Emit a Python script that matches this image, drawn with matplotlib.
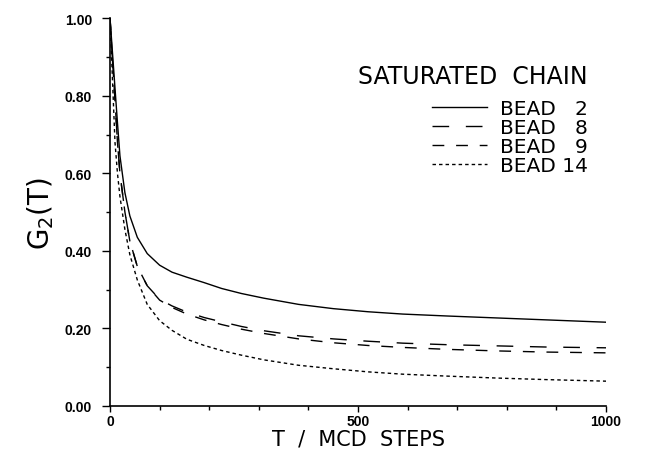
import matplotlib
matplotlib.use("Agg")
import matplotlib.pyplot as plt
from matplotlib.ticker import MultipleLocator

# T / MCD steps
steps = [0, 5, 10, 15, 20, 30, 40, 55, 75, 100, 125, 155, 190, 225, 265, 310,
         380, 450, 520, 590, 680, 780, 880, 1000]

bead2 = [1.0, 0.91, 0.82, 0.73, 0.645, 0.55, 0.49, 0.435, 0.393, 0.363, 0.345, 0.332,
         0.318, 0.303, 0.29, 0.278, 0.262, 0.251, 0.243, 0.237, 0.232, 0.227, 0.222, 0.216]
bead8 = [1.0, 0.89, 0.79, 0.68, 0.60, 0.50, 0.425, 0.36, 0.31, 0.275, 0.258, 0.242,
         0.228, 0.217, 0.205, 0.194, 0.181, 0.173, 0.167, 0.162, 0.158, 0.155, 0.152, 0.15]
bead9 = [1.0, 0.89, 0.79, 0.68, 0.60, 0.50, 0.425, 0.36, 0.31, 0.273, 0.254, 0.237,
         0.222, 0.21, 0.198, 0.187, 0.173, 0.163, 0.156, 0.151, 0.146, 0.142, 0.139, 0.137]
bead14 = [1.0, 0.84, 0.68, 0.60, 0.54, 0.455, 0.39, 0.325, 0.262, 0.22, 0.195, 0.172,
          0.156, 0.143, 0.131, 0.119, 0.105, 0.096, 0.088, 0.082, 0.077, 0.072, 0.068, 0.064]

labels = ["BEAD   2", "BEAD   8", "BEAD   9", "BEAD 14"]
series = [bead2, bead8, bead9, bead14]
dash_styles = ["-", (0, (12, 12)), (0, (8.5, 8.5)), (0, (2.5, 2.2))]

plt.rcParams['font.family'] = ['Liberation Sans', 'DejaVu Sans']

fig = plt.figure(figsize=(6.64, 4.52), dpi=100)
ax = fig.add_axes([0.1657, 0.0996, 0.747, 0.858])

for y, lab, ls in zip(series, labels, dash_styles):
    ax.plot(steps, y, color="black", lw=1.0, linestyle=ls, label=lab)

ax.set_xlim(0, 1000)
ax.set_ylim(0, 1.0)
ax.spines["top"].set_visible(False)
ax.spines["right"].set_visible(False)
ax.spines["left"].set_linewidth(1.2)
ax.spines["bottom"].set_linewidth(1.2)

ax.xaxis.set_major_locator(MultipleLocator(500))
ax.xaxis.set_minor_locator(MultipleLocator(100))
ax.yaxis.set_major_locator(MultipleLocator(0.2))
ax.yaxis.set_minor_locator(MultipleLocator(0.1))
ax.set_yticklabels(["{:.2f}".format(v) for v in ax.get_yticks()])
ax.tick_params(axis="y", which="major", length=6, width=1, pad=7, labelsize=10)
ax.tick_params(axis="y", which="minor", length=3, width=1)
ax.tick_params(axis="x", which="major", length=4, width=1, pad=2, labelsize=10)
ax.tick_params(axis="x", which="minor", length=3, width=1)
for t in ax.get_xticklabels() + ax.get_yticklabels():
    t.set_fontweight("bold")

ax.set_xlabel("T  /  MCD  STEPS", fontsize=15, labelpad=0, family="DejaVu Sans")
ax.set_ylabel("G$_2$(T)", fontsize=20, labelpad=6, family="DejaVu Sans")

leg = ax.legend(loc="upper right", bbox_to_anchor=(0.984, 0.908), frameon=False,
                title="SATURATED  CHAIN", fontsize=14.5, handlelength=2.75,
                handletextpad=0.65, labelspacing=0.0, borderpad=0,
                alignment="right")
leg.get_title().set_fontsize(17)
leg.get_title().set_family("DejaVu Sans")
leg._legend_box.sep = 8
for t in leg.get_texts():
    t.set_family("DejaVu Sans")

fig.savefig("out.png", dpi=100)
